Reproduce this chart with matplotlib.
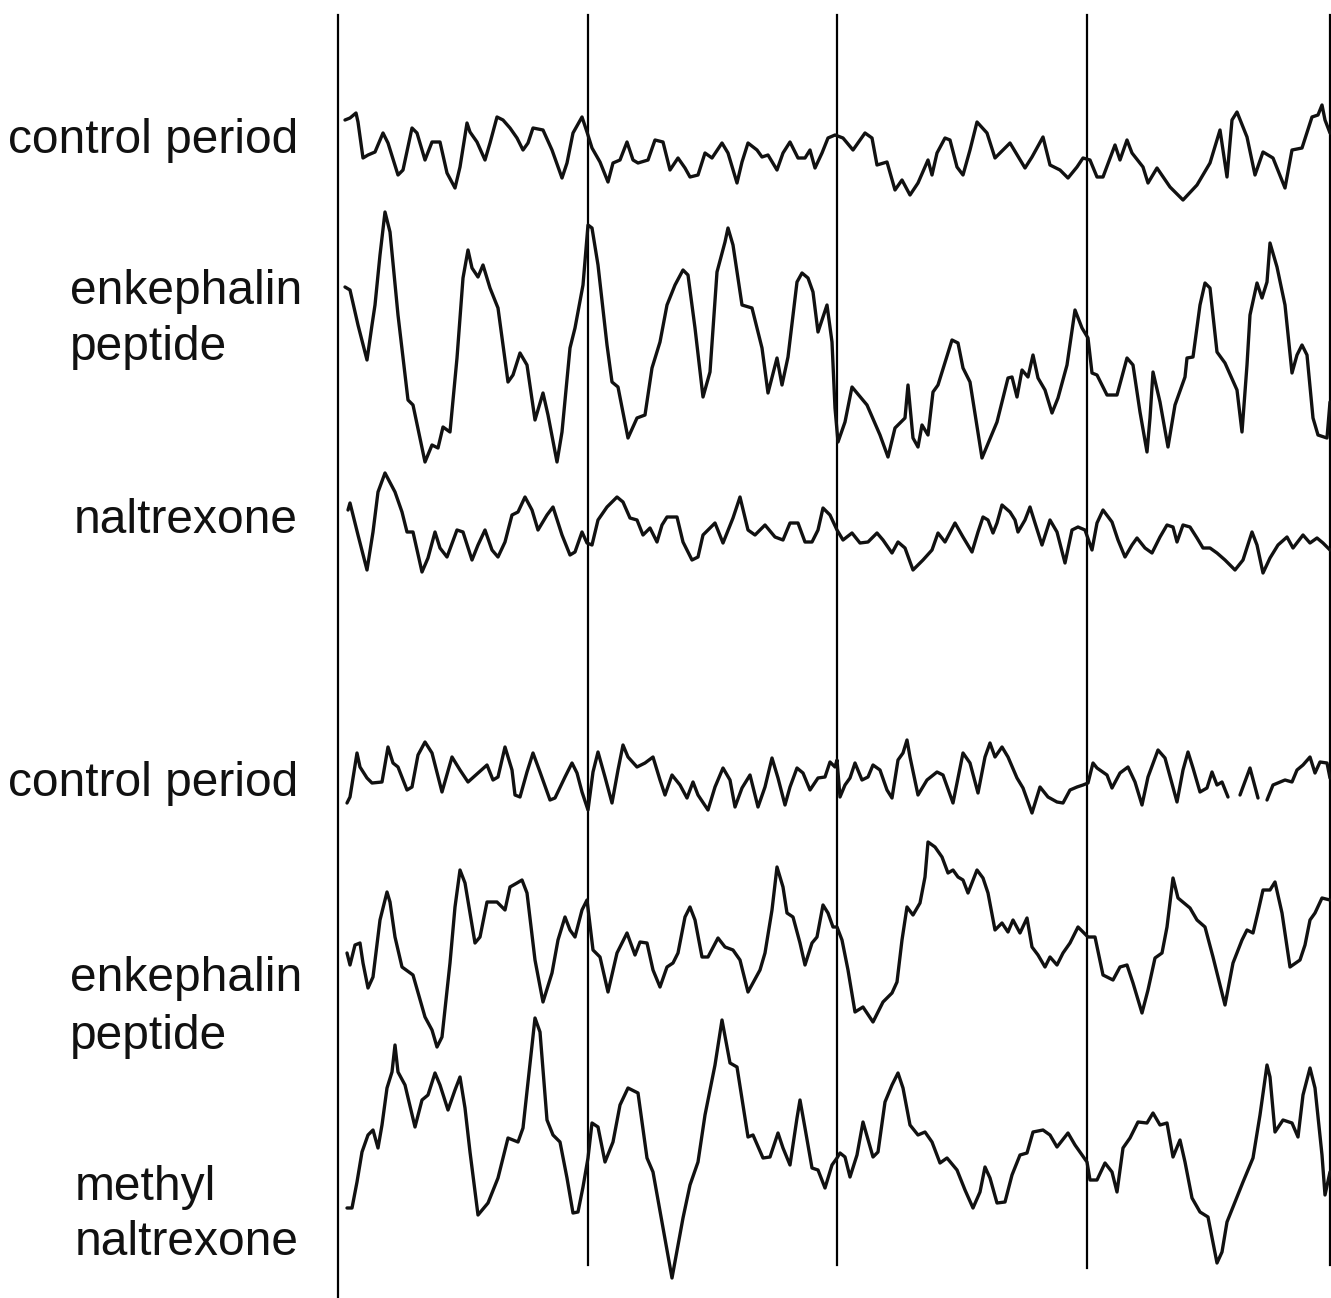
import numpy as np
import matplotlib
matplotlib.use("Agg")
import matplotlib.pyplot as plt

# --- traces (x, y in image units, y grows downwards) ---
ctrl1 = [(345,120),(350,118),(356,113),(358,122),(363,158),(368,155),(375,152),(383,133),(388,143),
         (398,175),(403,170),(412,128),(417,133),(425,160),(432,142),(440,142),(447,173),(455,188),
         (460,167),(467,123),(470,132),(477,142),(485,160),(490,143),(497,117),(503,120),(510,128),
         (517,138),(523,150),(528,143),(533,128),(543,130),(552,150),(562,178),(567,163),(573,133),
         (582,117),(587,132),(592,148),(600,162),(608,182),(613,163),(620,160),(627,142),(633,160),
         (638,163),(648,160),(655,140),(663,142),(670,170),(678,158),(685,168),(690,177),(698,175),
         (705,153),(712,158),(722,143),(728,153),(737,183),(742,162),(748,143),(757,150),(762,157),
         (768,155),(777,170),(783,153),(790,142),(798,158),(805,158),(810,150),(815,168),(822,153),
         (828,138),(835,135),(843,138),(853,150),(865,133),(872,138),(877,165),(887,162),(895,190),
         (902,180),(910,195),(918,183),(928,160),(932,175),(937,153),(945,138),(950,140),(957,167),
         (963,175),(970,150),(977,122),(987,133),(995,158),(1010,143),(1025,168),(1032,157),(1043,137),
         (1050,165),(1060,170),(1068,178),(1077,167),(1083,158),(1090,160),(1097,177),(1103,177),
         (1115,145),(1120,160),(1127,140),(1132,153),(1143,167),(1148,183),(1157,168),(1170,187),
         (1183,200),(1197,185),(1210,163),(1220,130),(1227,177),(1232,120),(1237,112),(1247,137),
         (1255,175),(1263,152),(1273,158),(1285,188),(1292,150),(1302,148),(1312,117),(1318,115),
         (1322,105),(1325,120),(1330,133)]

enk1 = [(345,287),(350,290),(358,325),(367,360),(372,325),(375,305),(380,255),(385,212),(390,232),
        (398,315),(408,400),(413,405),(425,462),(432,445),(438,448),(443,427),(450,432),(457,358),
        (463,278),(468,250),(472,268),(478,277),(483,265),(490,288),(498,308),(508,382),(513,375),
        (520,353),(527,365),(535,420),(543,393),(548,415),(557,462),(562,432),(570,348),(575,328),
        (583,285),(588,225),(592,228),(598,265),(607,345),(612,382),(618,387),(628,438),(637,418),
        (645,415),(652,368),(660,342),(667,305),(675,285),(683,270),(688,275),(695,328),(703,397),
        (710,372),(717,272),(725,242),(728,228),(733,245),(742,305),(752,308),(762,348),(768,393),
        (777,358),(782,385),(788,357),(797,282),(802,273),(808,278),(813,292),(818,332),(827,305),
        (832,342),(835,408),(838,442),(845,422),(852,387),(867,405),(880,435),(888,457),(895,428),
        (905,418),(908,385),(913,438),(918,447),(922,425),(928,435),(933,392),(938,385),(952,340),
        (958,343),(963,368),(970,382),(982,458),(997,422),(1008,378),(1012,377),(1017,397),(1022,370),
        (1028,377),(1033,355),(1038,378),(1045,390),(1052,413),(1058,398),(1067,365),(1075,310),
        (1082,328),(1088,338),(1092,373),(1097,375),(1107,395),(1117,395),(1127,358),(1133,365),
        (1140,412),(1147,452),(1150,418),(1153,372),(1160,402),(1168,447),(1175,405),(1185,377),
        (1187,358),(1193,357),(1200,305),(1205,283),(1210,288),(1217,352),(1225,363),(1237,390),
        (1242,432),(1247,365),(1250,315),(1257,283),(1262,298),(1267,282),(1270,243),(1277,267),
        (1285,305),(1292,373),(1297,355),(1302,345),(1307,355),(1313,418),(1318,435),(1327,438),
        (1330,402)]

nal1 = [(348,510),(350,503),(358,535),(367,570),(373,532),(378,492),(385,473),(395,492),(402,512),
        (407,532),(413,532),(422,572),(428,558),(435,532),(440,548),(447,557),(457,530),(463,532),
        (472,560),(478,545),(485,530),(492,550),(498,557),(505,542),(512,515),(518,512),(525,497),
        (532,510),(538,530),(547,515),(553,507),(562,535),(570,555),(575,552),(582,532),(587,543),
        (592,545),(598,520),(607,507),(617,497),(623,502),(630,518),(637,520),(643,535),(650,528),
        (657,542),(662,525),(667,517),(677,517),(683,542),(692,560),(698,557),(703,535),(715,523),
        (723,543),(733,518),(740,497),(748,530),(755,535),(765,525),(775,537),(783,540),(790,523),
        (798,523),(805,542),(812,542),(818,530),(823,508),(830,515),(837,530),(843,540),(852,533),
        (860,543),(868,542),(877,533),(883,540),(892,553),(898,542),(905,548),(913,570),(923,560),
        (932,550),(938,533),(945,542),(955,523),(963,537),(972,552),(978,532),(983,517),(988,520),
        (993,533),(997,523),(1002,505),(1010,512),(1015,520),(1018,532),(1025,520),(1030,507),
        (1035,523),(1042,545),(1050,520),(1057,532),(1065,563),(1072,530),(1078,527),(1085,530),
        (1092,550),(1097,523),(1103,510),(1112,522),(1118,540),(1125,557),(1132,545),(1137,538),
        (1145,548),(1152,553),(1160,537),(1167,525),(1173,527),(1177,542),(1183,525),(1190,527),
        (1197,538),(1203,548),(1210,548),(1217,553),(1225,560),(1235,570),(1243,560),(1252,532),
        (1257,545),(1263,573),(1270,558),(1278,545),(1287,537),(1293,548),(1303,535),(1310,543),
        (1317,538),(1323,543),(1330,550)]

ctrl2 = [(347,803),(350,797),(357,753),(360,767),(367,778),(372,783),(382,782),(388,747),(393,763),
         (398,767),(407,790),(412,787),(418,755),(425,742),(432,753),(442,792),(452,757),(460,770),
         (468,782),(478,773),(487,765),(493,780),(498,777),(505,747),(512,770),(515,795),(520,797),
         (527,772),(533,753),(540,772),(550,800),(555,798),(565,777),(572,763),(577,773),(582,792),
         (588,810),(593,772),(598,752),(605,777),(612,803),(618,770),(623,745),(628,757),(637,767),
         (645,763),(653,757),(660,780),(665,795),(672,775),(680,785),(687,798),(693,782),(698,795),
         (708,810),(715,787),(723,768),(730,780),(735,807),(742,788),(750,775),(758,807),(765,787),
         (772,758),(778,778),(785,805),(790,787),(797,768),(803,773),(810,790),(818,778),(825,777),
         (830,762),(835,767),(837,760),(840,797),(845,785),(850,778),(855,763),(862,780),(868,777),
         (873,765),(880,770),(887,790),(892,798),(898,760),(903,753),(907,740),(910,757),(918,795),
         (927,780),(937,772),(943,775),(953,803),(958,778),(963,753),(970,763),(978,793),(985,757),
         (990,743),(995,757),(1002,747),(1008,757),(1017,778),(1023,788),(1032,813),(1040,787),
         (1048,797),(1057,802),(1063,803),(1070,790),(1077,787),(1083,785),(1088,783),(1093,763),
         (1097,768),(1107,775),(1112,788),(1120,773),(1128,767),(1135,782),(1142,805),(1148,777),
         (1158,750),(1165,758),(1177,802),(1183,770),(1188,752),(1193,768),(1200,792),(1207,788),
         (1212,772),(1217,785),(1222,782),(1228,797),(np.nan,np.nan),(1240,795),(1250,768),
         (1258,798),(np.nan,np.nan),(1267,800),(1273,785),(1285,780),(1292,782),(1297,770),
         (1303,765),(1310,757),(1315,773),(1320,762),(1327,763),(1330,778)]

enk2 = [(347,953),(350,965),(355,945),(360,943),(363,963),(368,988),(373,977),(380,920),(387,892),
        (390,902),(395,937),(402,967),(413,975),(425,1017),(432,1030),(437,1047),(442,1037),
        (450,963),(455,907),(460,870),(465,883),(475,943),(480,937),(487,902),(497,902),(505,910),
        (510,887),(517,883),(522,880),(527,893),(535,960),(543,1002),(552,973),(558,940),(565,917),
        (570,930),(575,937),(582,910),(587,900),(593,950),(600,957),(608,992),(617,953),(627,933),
        (635,955),(640,942),(647,943),(653,970),(660,987),(667,967),(673,963),(678,953),(685,917),
        (690,907),(695,920),(702,957),(708,957),(718,938),(725,947),(733,950),(740,960),(748,992),
        (760,970),(765,953),(772,910),(777,867),(783,887),(787,913),(793,917),(800,943),(805,965),
        (812,943),(817,937),(823,905),(828,913),(833,927),(837,927),(842,940),(848,970),(855,1012),
        (863,1007),(873,1022),(883,1002),(892,993),(897,982),(902,940),(907,907),(913,915),(920,903),
        (925,877),(928,842),(935,847),(942,857),(948,873),(953,870),(958,877),(963,880),(968,893),
        (977,870),(983,878),(988,893),(995,930),(1002,923),(1008,932),(1013,920),(1020,933),
        (1027,918),(1032,947),(1038,955),(1045,967),(1050,957),(1057,965),(1063,953),(1070,943),
        (1078,927),(1083,932),(1088,937),(1095,937),(1103,975),(1113,980),(1120,967),(1127,965),
        (1133,983),(1142,1013),(1148,990),(1155,958),(1162,953),(1167,927),(1173,878),(1178,898),
        (1190,908),(1197,920),(1205,927),(1213,957),(1225,1005),(1233,963),(1242,940),(1247,930),
        (1253,933),(1258,912),(1263,890),(1270,890),(1275,882),(1282,913),(1290,967),(1300,960),
        (1305,945),(1310,920),(1315,913),(1322,898),(1330,900)]

mnal = [(347,1208),(352,1208),(357,1182),(362,1152),(368,1135),(373,1130),(378,1148),(382,1125),
        (387,1088),(392,1072),(395,1045),(398,1072),(405,1085),(415,1127),(422,1100),(428,1095),
        (435,1073),(440,1085),(448,1110),(455,1090),(460,1077),(465,1108),(470,1152),(478,1215),
        (488,1203),(498,1178),(508,1138),(518,1142),(523,1128),(528,1082),(535,1018),(540,1032),
        (547,1120),(553,1135),(560,1142),(567,1178),(573,1213),(578,1212),(583,1187),(588,1158),
        (592,1123),(598,1127),(605,1162),(613,1142),(620,1105),(628,1088),(638,1093),(647,1158),
        (653,1172),(662,1222),(672,1278),(683,1218),(690,1185),(698,1162),(705,1115),(715,1065),
        (722,1020),(730,1063),(737,1067),(748,1137),(753,1135),(763,1158),(770,1157),(778,1133),
        (783,1148),(790,1165),(797,1118),(800,1100),(805,1128),(812,1168),(818,1170),(825,1188),
        (832,1165),(837,1158),(840,1153),(845,1157),(850,1177),(857,1155),(863,1122),(873,1157),
        (878,1152),(885,1102),(892,1085),(898,1073),(903,1088),(910,1125),(918,1135),(925,1132),
        (932,1142),(940,1163),(947,1158),(957,1170),(965,1190),(973,1208),(980,1192),(985,1167),
        (990,1178),(997,1203),(1005,1202),(1012,1175),(1020,1155),(1027,1153),(1033,1132),
        (1043,1130),(1050,1135),(1057,1147),(1068,1133),(1075,1145),(1087,1162),(1090,1180),
        (1097,1180),(1105,1163),(1112,1172),(1117,1192),(1123,1148),(1130,1138),(1138,1122),
        (1147,1123),(1153,1113),(1160,1125),(1167,1123),(1173,1157),(1180,1140),(1185,1162),
        (1192,1198),(1200,1212),(1208,1217),(1217,1263),(1222,1252),(1227,1222),(1235,1202),
        (1243,1182),(1253,1158),(1260,1115),(1267,1065),(1270,1077),(1275,1132),(1283,1120),
        (1292,1123),(1298,1137),(1303,1095),(1310,1068),(1315,1088),(1322,1155),(1325,1195),
        (1330,1172)]

# time markers (vertical lines)
marker_x = [338, 588, 837, 1087, 1330]
marker_bottom = [1298, 1265, 1265, 1268, 1265]

# row labels: (text, x, baseline y, alignment)
labels = [("control period", 298, 153, "right"),
          ("enkephalin", 70, 304, "left"),
          ("peptide", 70, 360, "left"),
          ("naltrexone", 298, 533, "right"),
          ("control period", 298, 796, "right"),
          ("enkephalin", 70, 991, "left"),
          ("peptide", 70, 1049, "left"),
          ("methyl", 75, 1200, "left"),
          ("naltrexone", 75, 1255, "left")]

fig = plt.figure(figsize=(13.31, 12.98), dpi=100)
ax = fig.add_axes([0, 0, 1, 1])
ax.set_xlim(0, 1331)
ax.set_ylim(1298, 0)
ax.axis("off")

for xm, yb in zip(marker_x, marker_bottom):
    ax.plot([xm, xm], [15, yb], color="black", linewidth=1.6)

for trace in [ctrl1, enk1, nal1, ctrl2, enk2, mnal]:
    pts = np.array(trace, dtype=float)
    ax.plot(pts[:, 0], pts[:, 1], color="#111111", linewidth=2.4,
            solid_joinstyle="round", solid_capstyle="round")

for text, x, y, ha in labels:
    ax.text(x, y, text, ha=ha, va="baseline", fontsize=34.5,
            family="Liberation Sans", color="#111111")

fig.savefig("out.png", dpi=100, facecolor="white")
